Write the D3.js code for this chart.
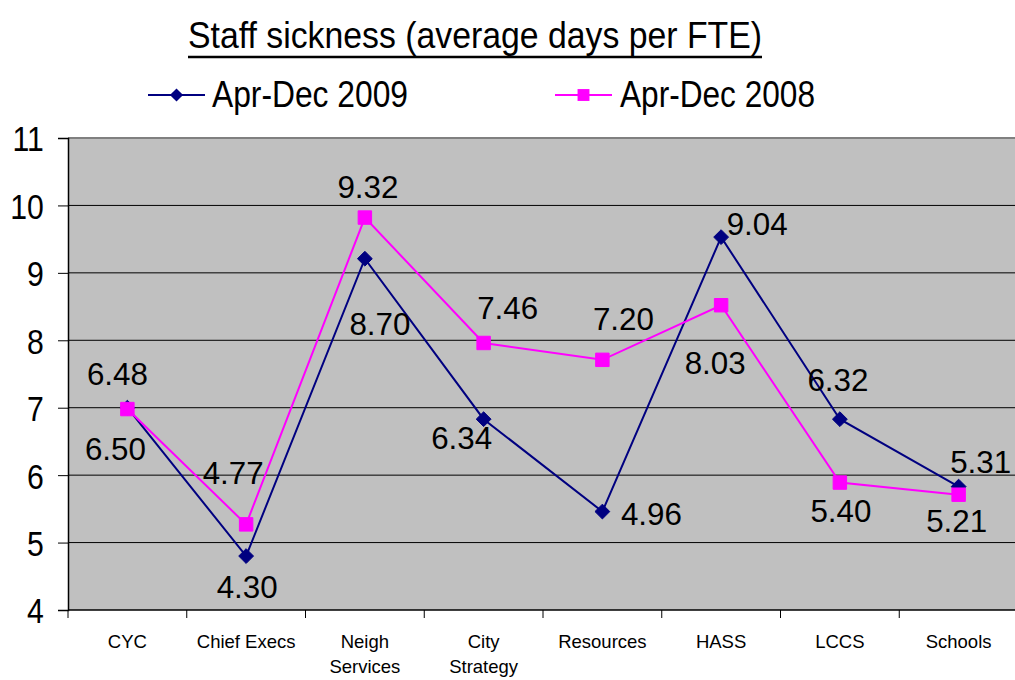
<!DOCTYPE html>
<html>
<head>
<meta charset="utf-8">
<script src="https://cdn.jsdelivr.net/npm/d3@7"></script>
<style>
  body { margin: 0; background: #fff; }
  text { font-family: "Liberation Sans", Arial, sans-serif; fill: #000; }
</style>
</head>
<body>
<div id="chart"></div>
<script>
// categories along the bottom
const categories = ["CYC", "Chief Execs", "Neigh\nServices", "City\nStrategy", "Resources", "HASS", "LCCS", "Schools"];
// plotted values as they sit on the grid
const values2009 = [7.00, 4.80, 9.21, 6.83, 5.46, 9.53, 6.83, 5.83];
const values2008 = [6.98, 5.27, 9.82, 7.96, 7.71, 8.52, 5.89, 5.71];
// data labels written next to the points
const labels2009 = ["6.50", "4.30", "8.70", "6.34", "4.96", "9.04", "6.32", "5.31"];
const labels2008 = ["6.48", "4.77", "9.32", "7.46", "7.20", "8.03", "5.40", "5.21"];
const yTicks = [4, 5, 6, 7, 8, 9, 10, 11];

// label offsets from each point (layout only)
const offs2009 = [[-12, 52], [1, 42], [15, 76], [-22, 30], [49, 13], [36, -2], [-2, -28], [22, -14]];
const offs2008 = [[-10, -24], [-13, -40], [3, -20], [24, -24], [21, -30], [-6, 69], [1, 39], [-2, 37]];

const width = 1015, height = 680;
const plotLeft = 68, plotRight = 1018, plotTop = 138, plotBottom = 610;

const svg = d3.select("#chart").append("svg")
  .attr("width", width)
  .attr("height", height);

const x = d3.scaleBand().domain(categories).range([plotLeft, plotRight]).padding(0);
const y = d3.scaleLinear().domain([4, 11]).range([plotBottom, plotTop]);
const cx = i => x(categories[i]) + x.bandwidth() / 2;

// plot area
svg.append("rect")
  .attr("x", plotLeft).attr("y", plotTop)
  .attr("width", plotRight - plotLeft).attr("height", plotBottom - plotTop)
  .attr("fill", "#c0c0c0");

// gridlines
svg.append("g").selectAll("line")
  .data(yTicks.filter(d => d > 4 && d < 11))
  .join("line")
  .attr("x1", plotLeft).attr("x2", plotRight)
  .attr("y1", d => y(d)).attr("y2", d => y(d))
  .attr("stroke", "#000").attr("stroke-width", 1);

// top border
svg.append("line")
  .attr("x1", plotLeft).attr("x2", plotRight)
  .attr("y1", plotTop).attr("y2", plotTop)
  .attr("stroke", "#808080").attr("stroke-width", 2);

// y axis
const yAxis = svg.append("g")
  .attr("transform", `translate(${plotLeft},0)`)
  .call(d3.axisLeft(y).tickValues(yTicks).tickSize(10).tickPadding(16).tickFormat(d3.format("d")));
yAxis.select(".domain").attr("stroke", "#000").attr("stroke-width", 1.5);
yAxis.selectAll(".tick line").attr("stroke", "#000");
yAxis.selectAll(".tick text")
  .attr("font-size", 36)
  .attr("font-family", "Liberation Sans, Arial, sans-serif")
  .attr("fill", "#000")
  .attr("dy", "0.36em")
  .attr("transform", "translate(-14,0) scale(0.84,1) translate(14,0)");

// x axis line and ticks at band boundaries
svg.append("line")
  .attr("x1", plotLeft).attr("x2", plotRight)
  .attr("y1", plotBottom).attr("y2", plotBottom)
  .attr("stroke", "#000").attr("stroke-width", 1.5);
svg.append("g").selectAll("line")
  .data(categories.map(c => x(c)).concat([plotRight]))
  .join("line")
  .attr("x1", d => d).attr("x2", d => d)
  .attr("y1", plotBottom).attr("y2", plotBottom + 8)
  .attr("stroke", "#000");

// category labels
const cat = svg.append("g").selectAll("text")
  .data(categories)
  .join("text")
  .attr("x", d => x(d) + x.bandwidth() / 2)
  .attr("y", 648)
  .attr("text-anchor", "middle")
  .attr("font-size", 18.5);
cat.each(function(d) {
  const t = d3.select(this);
  d.split("\n").forEach((line, i) => {
    t.append("tspan")
      .attr("x", x(d) + x.bandwidth() / 2)
      .attr("dy", i === 0 ? 0 : 25)
      .text(line);
  });
});

// series
const series = [
  { name: "Apr-Dec 2009", values: values2009, labels: labels2009, offs: offs2009, color: "#000080", symbol: d3.symbol(d3.symbolDiamond2, 140), legendSymbol: d3.symbol(d3.symbolDiamond2, 110) },
  { name: "Apr-Dec 2008", values: values2008, labels: labels2008, offs: offs2008, color: "#ff00ff", symbol: d3.symbol(d3.symbolSquare2, 230), legendSymbol: d3.symbol(d3.symbolSquare2, 180) }
];

const line = d3.line()
  .x((d, i) => cx(i))
  .y(d => y(d));

series.forEach(s => {
  svg.append("path")
    .datum(s.values)
    .attr("d", line)
    .attr("fill", "none")
    .attr("stroke", s.color)
    .attr("stroke-width", 2);
});

series.forEach(s => {
  svg.append("g").selectAll("path")
    .data(s.values)
    .join("path")
    .attr("d", s.symbol)
    .attr("transform", (d, i) => `translate(${cx(i)},${y(d)})`)
    .attr("fill", s.color)
    .attr("stroke", s.color)
    .attr("stroke-width", 1);
});

// data labels
series.forEach(s => {
  svg.append("g").selectAll("text")
    .data(s.values)
    .join("text")
    .attr("x", (d, i) => cx(i) + s.offs[i][0])
    .attr("y", (d, i) => y(d) + s.offs[i][1])
    .attr("text-anchor", "middle")
    .attr("font-size", 32)
    .attr("textLength", 61)
    .attr("lengthAdjust", "spacingAndGlyphs")
    .text((d, i) => s.labels[i]);
});

// title
svg.append("text")
  .attr("x", 188).attr("y", 48)
  .attr("font-size", 36)
  .attr("textLength", 574)
  .attr("lengthAdjust", "spacingAndGlyphs")
  .text("Staff sickness (average days per FTE)");
svg.append("line")
  .attr("x1", 188).attr("x2", 762)
  .attr("y1", 57).attr("y2", 57)
  .attr("stroke", "#000").attr("stroke-width", 2.5);

// legend
const legendPos = [[148, 212, 196], [555, 620, 195]];
series.forEach((s, i) => {
  const [lx, tx, tw] = legendPos[i];
  const g = svg.append("g");
  g.append("line")
    .attr("x1", lx).attr("x2", lx + 57)
    .attr("y1", 95).attr("y2", 95)
    .attr("stroke", s.color).attr("stroke-width", 2);
  g.append("path")
    .attr("d", s.legendSymbol)
    .attr("transform", `translate(${lx + 28.5},95)`)
    .attr("fill", s.color);
  g.append("text")
    .attr("x", tx).attr("y", 107)
    .attr("font-size", 36)
    .attr("textLength", tw)
    .attr("lengthAdjust", "spacingAndGlyphs")
    .text(s.name);
});
</script>
</body>
</html>
